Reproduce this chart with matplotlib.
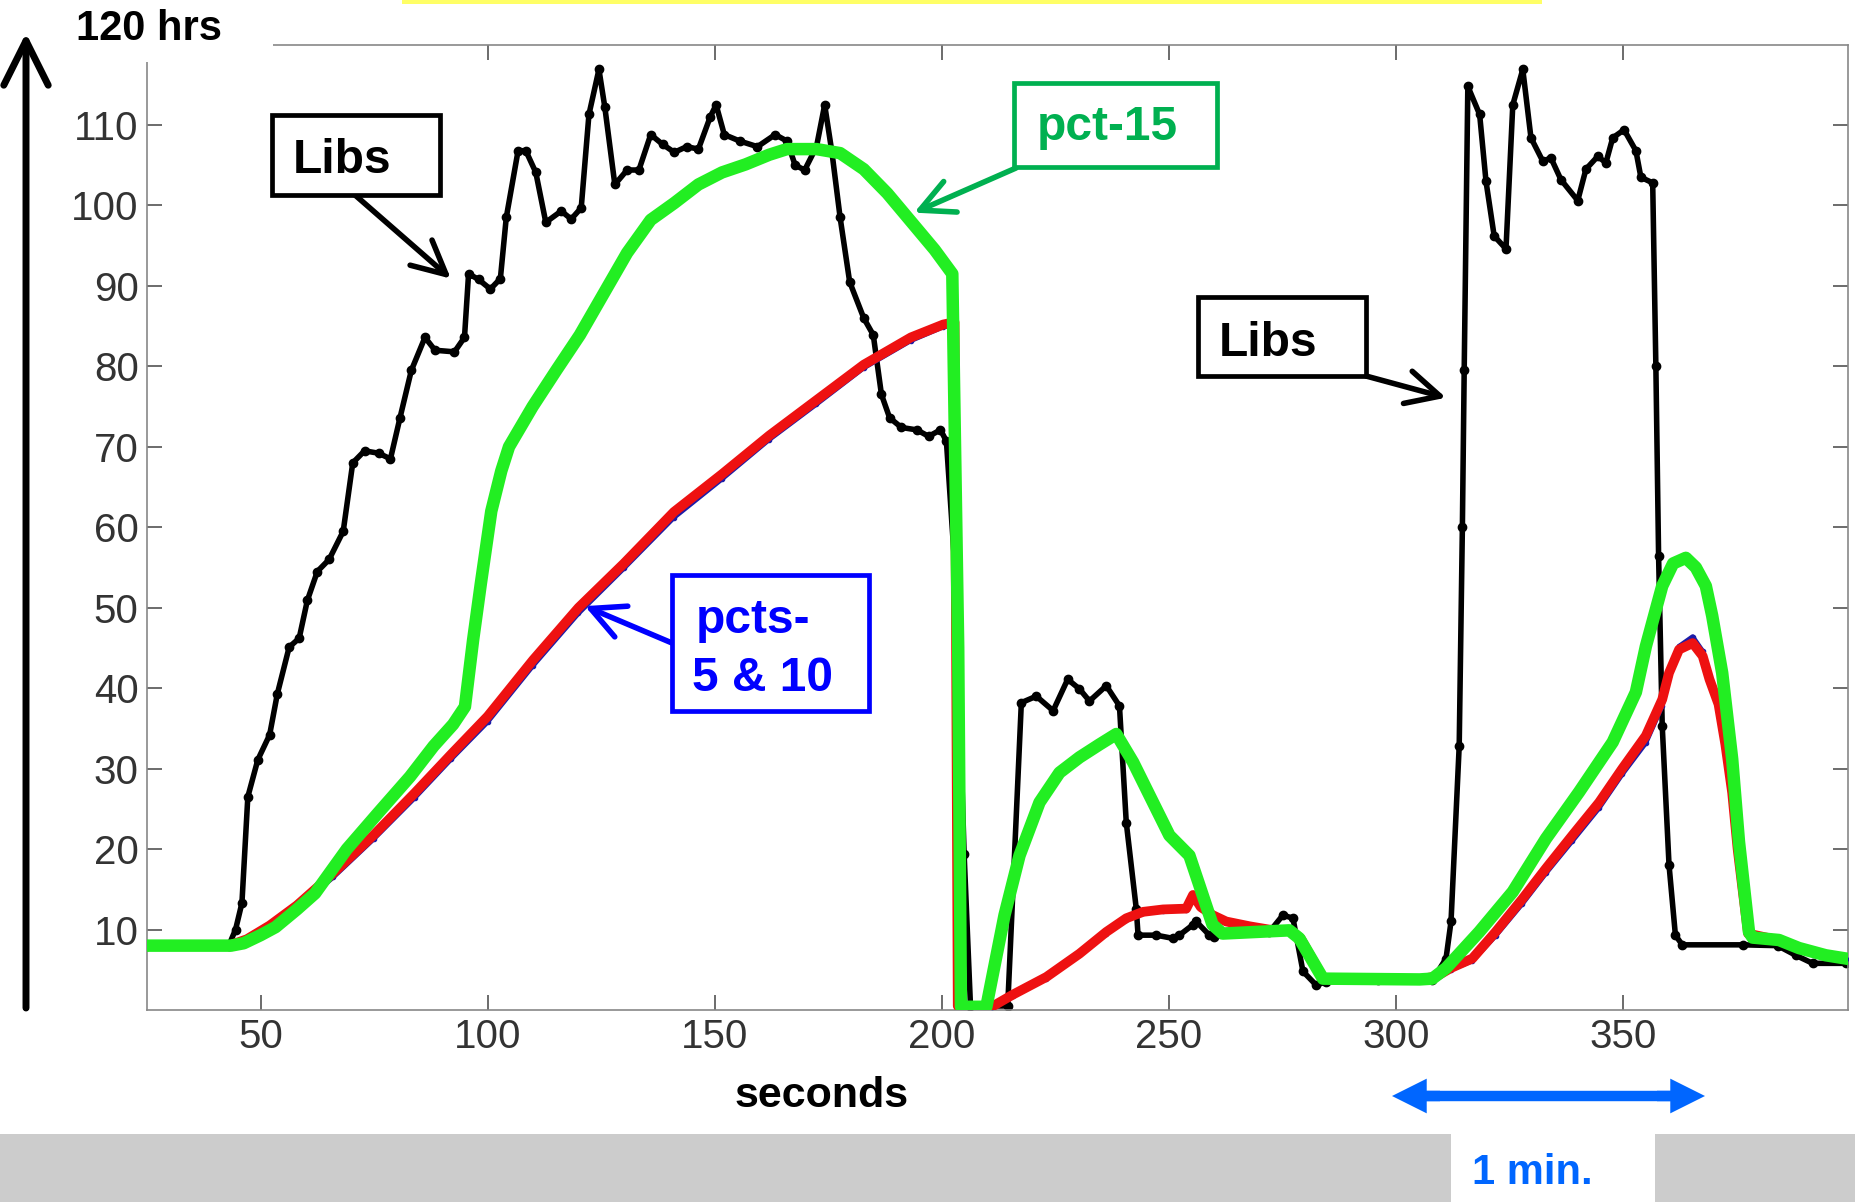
import matplotlib.pyplot as plt
from matplotlib.lines import Line2D
from matplotlib.patches import Rectangle, FancyArrowPatch

plt.rcParams['font.family'] = ['Liberation Sans', 'DejaVu Sans']

W, H = 1856, 1202

# Libs: black trace with dots
libs_t = [25, 43, 44.5, 45.9, 47.2, 49.4, 52, 53.7, 56.3, 58.5, 60.3, 62.5, 65.1, 68.2,
          70.3, 72.9, 76, 78.6, 80.7, 83.2, 86.2, 88.4, 92.7, 94.9, 95.8, 98, 100.6,
          102.8, 104.1, 106.7, 108.4, 110.6, 112.8, 116.2, 118.4, 120.6, 122.3, 124.5,
          125.8, 128, 130.7, 133.3, 135.9, 138.5, 141.1, 143.8, 146.4, 149, 150.3, 152.1,
          155.5, 159.4, 163.3, 165.9, 167.7, 169.8, 172.4, 174.2, 175.8, 177.6, 179.7,
          182.8, 184.9, 186.7, 188.5, 191.1, 194.5, 197.1, 199.7, 201, 203.1, 204.9,
          206.3, 214.5, 217.5, 220.8, 224.5, 227.7, 230.3, 232.5, 236.2, 239.1, 240.6,
          242.8, 243.2, 247.2, 250.9, 252.3, 255.3, 256, 258.9, 260, 265, 272.1, 275.1,
          277.3, 279.5, 282.4, 284.6, 296, 308, 311, 312.1, 313.9, 314.6, 315, 315.8,
          318.4, 319.8, 321.6, 324.2, 325.7, 327.9, 329.7, 332.3, 334.1, 336.3, 340,
          341.8, 344.4, 346.2, 347.7, 350.2, 352.8, 353.9, 356.5, 357.2, 357.8, 358.6,
          360.1, 361.5, 363, 376.3, 384, 388, 391.7, 399]
libs_h = [8, 8, 10, 13.3, 26.5, 31.1, 34.2, 39.3, 45.1, 46.2, 50.9, 54.5, 56, 59.5,
          68, 69.5, 69.2, 68.5, 73.6, 79.5, 83.6, 82, 81.8, 83.6, 91.5, 90.8, 89.6,
          90.9, 98.5, 106.8, 106.8, 104.1, 97.9, 99.3, 98.3, 99.7, 111.3, 116.9,
          112.2, 102.6, 104.4, 104.4, 108.8, 107.6, 106.6, 107.3, 107, 111, 112.5, 108.8,
          108, 107.3, 108.8, 108, 105, 104.4, 107.3, 112.5, 106.6, 98.5, 90.5,
          86, 83.9, 76.5, 73.6, 72.4, 72.1, 71.3, 72.1, 70.7, 53, 19.4,
          0.5, 0.5, 38.2, 39.0, 37.2, 41.1, 39.9, 38.4, 40.3, 37.8, 23.3,
          12.6, 9.3, 9.3, 8.9, 9.3, 10.6, 11, 9.3, 9.1, 9.6, 9.7, 11.8,
          11.4, 4.8, 3.1, 3.5, 3.7, 3.7, 6.4, 11, 32.8, 60, 79.5, 114.8,
          111.3, 103, 96.2, 94.6, 112.5, 116.9, 108.4, 105.5, 105.9, 103.2, 100.6,
          104.5, 106.1, 105.3, 108.4, 109.4, 106.8, 103.5, 102.8, 80, 56.4, 35.3,
          18, 9.3, 8.1, 8.1, 8, 6.8, 5.8, 5.8]

# pct-15: green
pct15_t = [25, 43.5, 46.3, 50, 53.3, 58, 62, 69, 75.9, 82.9, 88.1, 92.4, 95, 96.8, 98.5,
           100.8, 103, 104.7, 109.9, 115.1, 120.3, 125.5, 130.7, 135.9, 141.1, 146.4,
           151.6, 156.8, 162, 165.9, 172.4, 177.6, 182.8, 188, 193.2, 198.4, 202.3,
           203.6, 204.2, 209.8, 211.2, 213.8, 217.1, 221.5, 225.9, 230.3, 234.7, 238.4,
           242.1, 245.7, 250.1, 254.5, 256.7, 259.6, 261.8, 276.5, 278.7, 283.9, 305.2,
           308, 311, 318.3, 325.7, 333, 340.3, 347.7, 352.8, 355, 358.6, 361, 363.8, 366,
           368.2, 369.6, 371.8, 374, 375.5, 377.7, 378.5, 384.3, 388.7, 394.6, 399]
pct15_h = [8, 8, 8.3, 9.3, 10.3, 12.5, 14.5, 20, 24.5, 29, 32.8, 35.5, 37.7, 46, 53,
           62, 67, 70, 75, 79.5, 83.9, 89, 94.1, 98.2, 100.3, 102.6,
           104.1, 105.1, 106.3, 107, 107, 106.5, 104.5, 101.5, 98, 94.5, 91.5,
           45, 0.4, 0.4, 4.4, 11.8, 19.2, 25.8, 29.5, 31.4, 33.0, 34.3,
           30.8, 26.7, 21.7, 19.2, 15.5, 10.6, 9.5, 9.9, 8.9, 3.9, 3.8,
           3.9, 5.2, 9.7, 14.7, 21.3, 27.1, 33.3, 39.5, 45.2, 52.7, 55.5, 56.2, 55,
           52.7, 49, 41.9, 31.2, 20.9, 9.7, 9, 8.7, 7.7, 6.8, 6.4]

# pcts-5 & 10: red (10) drawn over blue (5)
pct_t = [25, 43, 47, 52, 58, 66, 75, 84, 92, 100, 110, 120, 130, 141, 151.6, 162, 172.4,
         182.8, 193.2, 200.3, 202.8, 203.5, 211, 215.6, 223, 230.3, 236.2, 240.6, 244.3,
         248.7, 253.8, 255.3, 257, 259.6, 262.6, 267.8, 272, 277, 279, 284, 305, 309,
         312, 316.8, 321.9, 327.8, 333, 338.8, 344.7, 349.8, 355, 358.6, 360.1, 362.3,
         365.3, 367.5, 369, 371, 372.5, 374, 375.2, 376.5, 377.5, 384, 388.7, 394.6, 399]
pct10_h = [8, 8, 8.8, 10.5, 13, 17, 21.8, 27, 31.8, 36.5, 43.5, 50, 55.5, 61.9, 66.6, 71.4,
           75.8, 80.2, 83.6, 85.2, 85.5, 0.5, 0.4, 1.9, 4.1, 7.0, 9.7, 11.4, 12.2,
           12.5, 12.6, 14.3, 12.8, 11.8, 11.0, 10.4, 10.0, 9.8, 8.9, 3.9, 3.8, 4.2,
           5.2, 6.4, 9.7, 13.8, 17.6, 21.7, 25.8, 30.0, 34.1, 38.6, 41.9, 44.8,
           45.6, 44.0, 41.1, 38.0, 33.0, 27.0, 20.0, 14.0, 9.5, 8.7, 7.7, 6.8, 6.4]
pct5_h = [8, 8, 8.6, 10.2, 12.6, 16.5, 21.3, 26.4, 31.2, 35.8, 42.8, 49.3, 54.9, 61.2, 66.0,
          70.9, 75.3, 79.8, 83.2, 84.9, 85.1, 0.5, 0.4, 1.7, 3.9, 6.8, 9.5, 11.2, 12.0,
          12.3, 12.4, 13.8, 12.6, 11.6, 10.9, 10.3, 9.9, 9.7, 8.8, 3.8, 3.7, 4.1,
          5.0, 6.1, 9.2, 13.2, 17.0, 21.0, 25.1, 29.3, 33.2, 37.8, 41.5, 45.2,
          46.4, 44.6, 41.3, 37.7, 32.6, 26.6, 19.6, 13.8, 9.4, 8.6, 7.6, 6.7, 6.3]

xticks = [50, 100, 150, 200, 250, 300, 350]
yticks = [10, 20, 30, 40, 50, 60, 70, 80, 90, 100, 110]


def fxy(px, py):
    # pixel position (top-left origin) -> figure fraction
    return px / W, 1 - py / H


fig = plt.figure(figsize=(W / 100, H / 100), dpi=100)
ax = fig.add_axes([147 / W, 1 - 1010 / H, (1848 - 147) / W, (1010 - 44.5) / H])

ax.plot(libs_t, libs_h, color='black', lw=4, marker='o', ms=6, zorder=2)
ax.plot(pct_t, pct5_h, color='#1c1ca8', lw=3.5, marker='.', ms=6, zorder=3)
ax.plot(pct_t, pct10_h, color='#ee1111', lw=7, zorder=4, solid_joinstyle='round')
ax.plot(pct15_t, pct15_h, color='#22ee22', lw=9, zorder=5, solid_joinstyle='round')

ax.set_xlim(25, 399.5)
ax.set_ylim(0, 120)
ax.set_xticks(xticks)
ax.set_yticks(yticks)
ax.tick_params(direction='in', top=True, right=True, length=11, width=1.1,
               color='#444444', labelsize=29, labelcolor='#333333')
ax.tick_params(axis='x', pad=6)
ax.tick_params(axis='y', pad=6)
for sp in ax.spines.values():
    sp.set_color('#888888')
    sp.set_linewidth(1.2)

ax.set_xlabel('seconds', fontsize=31, fontweight='bold', va='baseline')
ax.xaxis.set_label_coords((821.5 - 147) / (1848 - 147), -(1107 - 1010) / (1010 - 44.5))

# white patch over the top-left corner, with the hours label
fig.add_artist(Rectangle(fxy(0, 62), 273 / W, 62 / H, transform=fig.transFigure,
                         fc='white', ec='none', zorder=6))
fig.text(*fxy(149, 40), '120 hrs', ha='center', va='baseline', fontsize=30,
         fontweight='bold', zorder=9)
fig.add_artist(FancyArrowPatch(fxy(26, 1008), fxy(26, 33), transform=fig.transFigure,
                               arrowstyle='->,head_length=1.6,head_width=0.8',
                               mutation_scale=20, lw=5, color='black',
                               shrinkA=0, shrinkB=0, zorder=8))

# yellow strip along the top edge
fig.add_artist(Rectangle(fxy(402, 4), (1542 - 402) / W, 4 / H, transform=fig.transFigure,
                         fc='#ffff66', ec='none', zorder=6))

# grey band along the bottom, open under the time label
for x0, x1 in [(0, 1451), (1655, W)]:
    fig.add_artist(Rectangle(fxy(x0, H), (x1 - x0) / W, (H - 1134) / H,
                             transform=fig.transFigure, fc='#cccccc', ec='none', zorder=6))
fig.text(*fxy(1532, 1184), '1 min.', ha='center', va='baseline', fontsize=30,
         fontweight='bold', color='#0066ff', zorder=9)

# two-headed span arrow: one shaft, a head at each end
(sx0, sy), (sx1, _) = fxy(1420, 1096), fxy(1677, 1096)
fig.add_artist(Line2D([sx0, sx1], [sy, sy], transform=fig.transFigure, lw=7.5,
                      color='#0066ff', solid_capstyle='butt', zorder=8))
for tip, start in ((1392, 1440), (1705, 1657)):
    fig.add_artist(FancyArrowPatch(fxy(start, 1096), fxy(tip, 1096), transform=fig.transFigure,
                                   arrowstyle='simple,head_length=25,head_width=25,tail_width=7.5',
                                   mutation_scale=1, lw=0, color='#0066ff',
                                   shrinkA=0, shrinkB=0, zorder=8))


def callout(box, lines, color, tip):
    x0, y0, x1, y1 = box
    fig.add_artist(Rectangle(fxy(x0, y1), (x1 - x0) / W, (y1 - y0) / H,
                             transform=fig.transFigure, fc='white', ec=color, lw=3.4,
                             zorder=10))
    for cx, base, s in lines:
        fig.text(*fxy(cx, base), s, ha='center', va='baseline', fontsize=34.5,
                 fontweight='bold', color=color, zorder=11)
    ax.annotate('', xy=tip[1], xycoords='data', xytext=fxy(*tip[0]),
                textcoords='figure fraction', annotation_clip=False,
                arrowprops=dict(arrowstyle='->,head_length=1.2,head_width=0.6',
                                mutation_scale=20, lw=4, color=color,
                                shrinkA=0, shrinkB=0))


callout((272, 115, 440, 195), [(342, 173, 'Libs')], 'black', ((355, 195), (91.9, 90.9)))
callout((1014, 83, 1217, 167), [(1107, 140, 'pct-15')], '#00b050', ((1016, 168), (193.9, 99.1)))
callout((1198, 297, 1366, 376), [(1268, 356, 'Libs')], 'black', ((1366, 376), (311.0, 76.1)))
callout((672, 575, 869, 711), [(753, 633, 'pcts-'), (763, 691, '5 & 10')], '#0000ff',
        ((672, 643), (121.4, 50.2)))

fig.savefig('out.png', dpi=100)
